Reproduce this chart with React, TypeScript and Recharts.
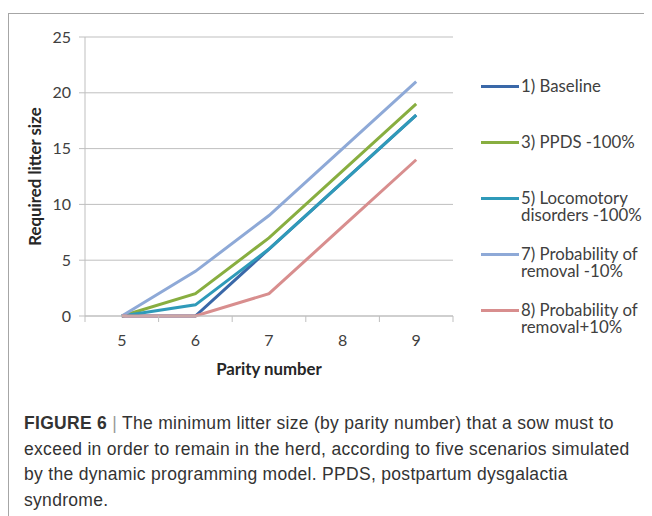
import React from "react";
import { LineChart, Line, XAxis, YAxis, CartesianGrid, Legend, Label } from "recharts";

const parity = [5, 6, 7, 8, 9];
const baseline = [0, 0, 6, 12, 18];
const ppds = [0, 2, 7, 13, 19];
const locomotory = [0, 1, 6, 12, 18];
const removalMinus = [0, 4, 9, 15, 21];
const removalPlus = [0, 0, 2, 8, 14];

const seriesNames = [
  "1) Baseline",
  "3) PPDS -100%",
  "5) Locomotory\ndisorders -100%",
  "7) Probability of\nremoval -10%",
  "8) Probability of\nremoval+10%",
];
const seriesKeys = ["baseline", "ppds", "locomotory", "removalMinus", "removalPlus"];
const seriesColors = ["#3A68A8", "#88AE40", "#2F9AB9", "#8EA9D7", "#D88E8E"];
const xTicks = [4.5, 5, 5.5, 6, 6.5, 7, 7.5, 8, 8.5, 9, 9.5];
const yTicks = [0, 5, 10, 15, 20, 25];

const data = parity.map((p, i) => ({
  parity: p,
  baseline: baseline[i],
  ppds: ppds[i],
  locomotory: locomotory[i],
  removalMinus: removalMinus[i],
  removalPlus: removalPlus[i],
}));

const FONT = "Lato, 'Open Sans', sans-serif";
const GRID = "#BFBFBF";

const XTick = (props: any) => {
  const { x, y, payload } = props;
  const v = payload.value;
  if (v % 1 !== 0) {
    return <line x1={x} x2={x} y1={y} y2={y + 6} stroke={GRID} strokeWidth={1} />;
  }
  return (
    <text x={x} y={y + 23} textAnchor="middle" dominantBaseline="central" fontSize={16} fill="#404040" fontFamily={FONT}>
      {v}
    </text>
  );
};

const LegendContent = (props: any) => {
  const payload = props.payload || [];
  return (
    <div style={{ position: "relative", width: 170, height: 270, fontFamily: FONT }}>
      {payload.map((entry: any, i: number) => (
        <div key={i} style={{ position: "absolute", left: 0, top: i * 56, display: "flex", alignItems: "flex-start" }}>
          <div style={{ width: 38, height: 3, background: entry.color, marginTop: 8, flex: "none" }} />
          <div style={{ marginLeft: 2, fontSize: 16.8, lineHeight: "17px", color: "#404040", whiteSpace: "pre-line" }}>
            {entry.value}
          </div>
        </div>
      ))}
    </div>
  );
};

export default function App() {
  return (
    <div style={{ position: "relative", width: 652, height: 516, marginLeft: -8, marginTop: -8, background: "#fff", overflow: "hidden" }}>
      <div style={{ position: "absolute", left: 8, top: 13, width: 660, height: 520, borderTop: "1px solid #A6A6A6", borderLeft: "1px solid #A6A6A6" }} />
      <div style={{ position: "absolute", left: 0, top: 0 }}>
        <LineChart width={652} height={400} data={data} margin={{ top: 37, right: 199, bottom: 24, left: 0 }}>
          <CartesianGrid vertical={false} stroke={GRID} />
          <XAxis
            dataKey="parity"
            type="number"
            domain={[4.5, 9.5]}
            ticks={xTicks}
            interval={0}
            tickSize={0}
            tickMargin={0}
            tickLine={false}
            axisLine={{ stroke: GRID }}
            tick={<XTick />}
            height={60}
          >
            <Label value="Parity number" position="insideBottom" offset={1} style={{ fontSize: 16.8, fontWeight: 700, fill: "#262626", fontFamily: FONT }} />
          </XAxis>
          <YAxis
            domain={[0, 25]}
            ticks={yTicks}
            interval={0}
            width={85}
            tickLine={{ stroke: GRID }}
            axisLine={{ stroke: GRID }}
            tickMargin={8}
            tick={{ fontSize: 16, fill: "#404040", fontFamily: FONT }}
          >
            <Label
              value="Required litter size"
              angle={-90}
              position="insideLeft"
              offset={35}
              style={{ textAnchor: "middle", fontSize: 16.8, fontWeight: 700, fill: "#262626", fontFamily: FONT }}
            />
          </YAxis>
          <Legend
            layout="vertical"
            align="center"
            verticalAlign="middle"
            content={<LegendContent />}
            wrapperStyle={{ left: 481, top: 77, width: 170, height: 270 }}
          />
          {seriesKeys.map((k, i) => (
            <Line
              key={k}
              dataKey={k}
              name={seriesNames[i]}
              type="linear"
              stroke={seriesColors[i]}
              strokeWidth={3}
              dot={false}
              activeDot={false}
              isAnimationActive={false}
            />
          ))}
        </LineChart>
      </div>
      <div style={{ position: "absolute", left: 24, top: 411, fontFamily: "'Liberation Sans', Arial, sans-serif", fontSize: 17.5, letterSpacing: 0.3, lineHeight: "25.7px", color: "#333", whiteSpace: "nowrap" }}>
        <div>
          <span style={{ fontWeight: 700 }}>FIGURE 6</span> <span style={{ color: "#999" }}>|</span> The minimum litter size (by parity number) that a sow must to
        </div>
        <div>exceed in order to remain in the herd, according to five scenarios simulated</div>
        <div>by the dynamic programming model. PPDS, postpartum dysgalactia</div>
        <div>syndrome.</div>
      </div>
    </div>
  );
}
